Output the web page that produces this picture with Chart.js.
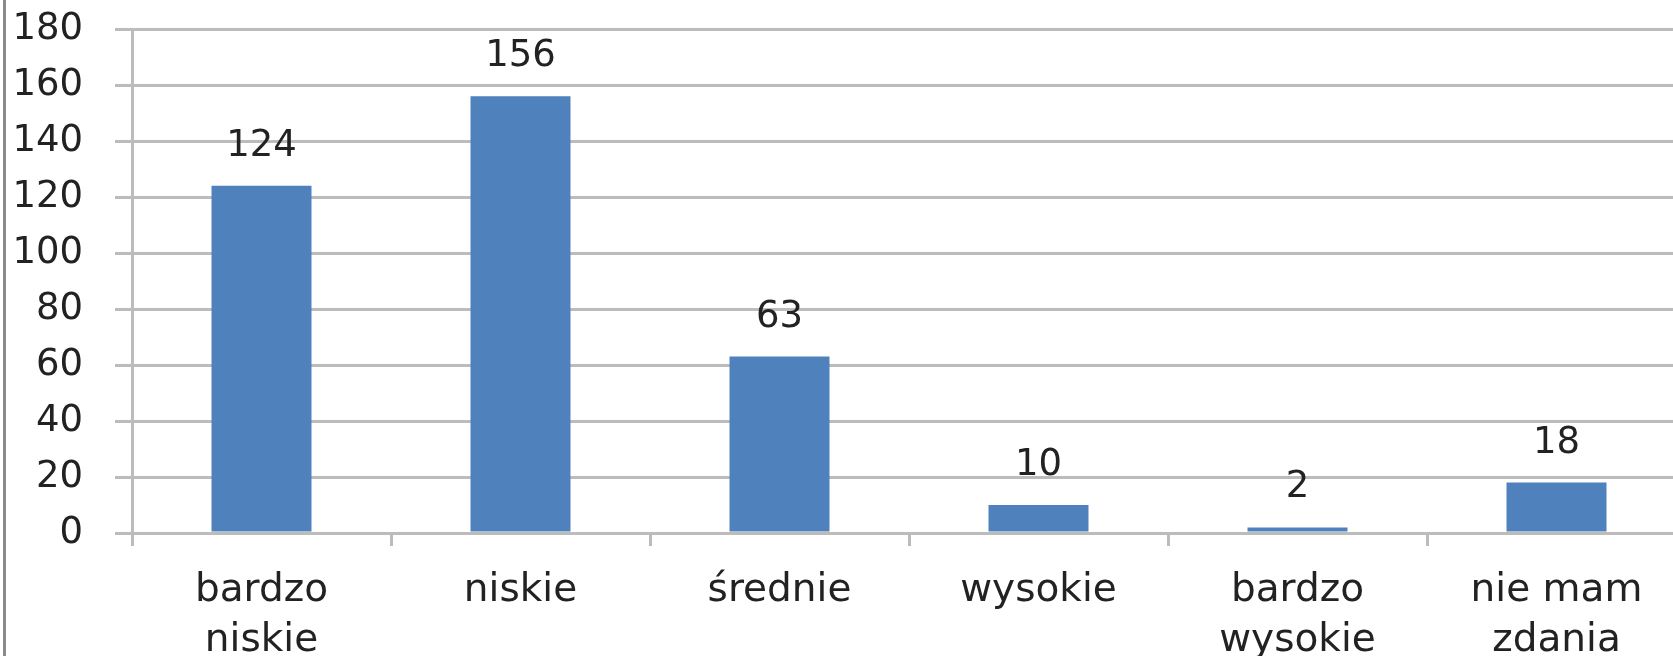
<!DOCTYPE html>
<html>
<head>
<meta charset="utf-8">
<script src="https://cdn.jsdelivr.net/npm/chart.js@4/dist/chart.umd.min.js"></script>
<style>
  html, body { margin: 0; padding: 0; background: #fff; overflow: hidden; }
  #wrap { position: absolute; left: 3px; top: 0; height: 656px; border-left: 3px solid #8a8a8a; }
  canvas { display: block; }
</style>
</head>
<body>
<div id="wrap"><canvas id="barChart" width="1680" height="656"></canvas></div>
<script>
// data
const categories = [["bardzo", "niskie"], "niskie", "średnie", "wysokie", ["bardzo", "wysokie"], ["nie mam", "zdania"]];
const counts = [124, 156, 63, 10, 2, 18];
const yTicks = [0, 20, 40, 60, 80, 100, 120, 140, 160, 180];

const gridColor = '#bcbcbc';
const textColor = '#222';

// values above bars (no datalabels plugin available offline)
const valueLabels = {
  id: 'valueLabels',
  afterDatasetsDraw(chart) {
    const ctx = chart.ctx;
    const meta = chart.getDatasetMeta(0);
    ctx.save();
    ctx.font = '37px "DejaVu Sans"';
    ctx.fillStyle = textColor;
    ctx.textAlign = 'center';
    ctx.textBaseline = 'alphabetic';
    meta.data.forEach(function (bar, i) {
      ctx.fillText(String(counts[i]), bar.x, bar.y - 30);
    });
    ctx.restore();
  }
};

var ctx = document.getElementById('barChart').getContext('2d');
var chart = new Chart(ctx, {
  type: 'bar',
  data: {
    labels: categories,
    datasets: [{
      data: counts,
      backgroundColor: '#4F81BD',
      borderWidth: 0,
      barPercentage: 0.386,
      categoryPercentage: 1
    }]
  },
  options: {
    responsive: false,
    animation: false,
    layout: { padding: { top: 29, right: 0, bottom: 0, left: 0 } },
    plugins: { legend: { display: false }, tooltip: { enabled: false } },
    scales: {
      y: {
        min: 0,
        max: 180,
        afterBuildTicks(scale) { scale.ticks = yTicks.map(v => ({ value: v })); },
        afterFit(scale) {
          scale.width = 126;
          scale.paddingTop = 0;
          scale.paddingBottom = 0;
        },
        grid: { color: gridColor, lineWidth: 3, tickLength: 17 },
        border: { color: gridColor, width: 3 },
        ticks: {
          padding: 32,
          color: textColor,
          font: { family: 'DejaVu Sans', size: 37 }
        }
      },
      x: {
        afterFit(scale) { scale.height = 123; },
        grid: { drawOnChartArea: false, color: gridColor, lineWidth: 3, tickLength: 13, offset: true },
        border: { color: gridColor, width: 3 },
        ticks: {
          padding: 20,
          maxRotation: 0,
          autoSkip: false,
          color: textColor,
          font: { family: 'DejaVu Sans', size: 39, lineHeight: 1.28 }
        }
      }
    }
  },
  plugins: [valueLabels]
});
</script>
</body>
</html>
